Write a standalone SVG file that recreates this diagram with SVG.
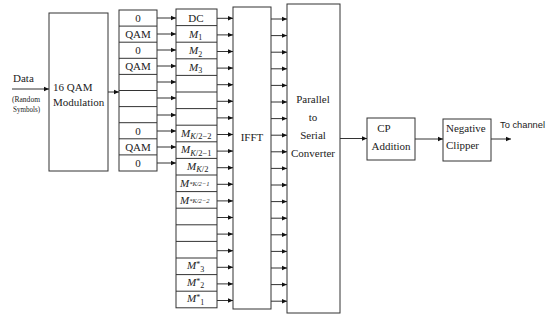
<svg xmlns="http://www.w3.org/2000/svg" width="547" height="320" viewBox="0 0 547 320">
<defs>
<marker id="ah" markerWidth="6" markerHeight="6" refX="5" refY="3" orient="auto" markerUnits="userSpaceOnUse">
<path d="M0,0.8 L5,3 L0,5.2 Z" fill="#111"/>
</marker>
<style>
.b{fill:#fff;stroke:#333;stroke-width:1}
.c line{stroke:#333;stroke-width:1;fill:none;marker-end:url(#ah)}
.t{font-family:"Liberation Serif","Times New Roman",serif;font-size:11px;fill:#222}
.m{text-anchor:middle}
.s{font-family:"Liberation Sans",Arial,sans-serif;font-size:9.5px;fill:#222}
.i{font-style:italic}
.sm{font-size:8px}
.sb{font-size:8px}
.sk{font-size:8.5px}
.sp{font-size:6.5px}
</style>
</defs>
<rect width="547" height="320" fill="#fff"/>

<g id="input">
<text class="t" x="13" y="82">Data</text>
<text class="t sm" x="12" y="102" textLength="28" lengthAdjust="spacingAndGlyphs">(Random</text>
<text class="t sm" x="13" y="112" textLength="27" lengthAdjust="spacingAndGlyphs">Symbols)</text>
</g>

<g id="modulation">
<rect class="b" x="49" y="13" width="59" height="158"/>
<text class="t" x="53" y="91">16 QAM</text>
<text class="t" x="53" y="106">Modulation</text>
</g>

<g id="col1">
<rect class="b" x="119" y="10" width="38" height="161"/>
<g stroke="#333" stroke-width="1">
<line x1="119" y1="26.1" x2="157" y2="26.1"/>
<line x1="119" y1="42.2" x2="157" y2="42.2"/>
<line x1="119" y1="58.3" x2="157" y2="58.3"/>
<line x1="119" y1="74.4" x2="157" y2="74.4"/>
<line x1="119" y1="90.5" x2="157" y2="90.5"/>
<line x1="119" y1="106.6" x2="157" y2="106.6"/>
<line x1="119" y1="122.7" x2="157" y2="122.7"/>
<line x1="119" y1="138.8" x2="157" y2="138.8"/>
<line x1="119" y1="154.9" x2="157" y2="154.9"/>
</g>
<text class="t m" x="138" y="22">0</text>
<text class="t m" x="138" y="38">QAM</text>
<text class="t m" x="138" y="54">0</text>
<text class="t m" x="138" y="70">QAM</text>
<text class="t m" x="138" y="135">0</text>
<text class="t m" x="138" y="151">QAM</text>
<text class="t m" x="138" y="167">0</text>
</g>

<g id="col2">
<rect class="b" x="176" y="9" width="41" height="298.8"/>
<g stroke="#333" stroke-width="1">
<line x1="176" y1="25.6" x2="217" y2="25.6"/>
<line x1="176" y1="42.2" x2="217" y2="42.2"/>
<line x1="176" y1="58.8" x2="217" y2="58.8"/>
<line x1="176" y1="75.4" x2="217" y2="75.4"/>
<line x1="176" y1="92" x2="217" y2="92"/>
<line x1="176" y1="108.6" x2="217" y2="108.6"/>
<line x1="176" y1="125.2" x2="217" y2="125.2"/>
<line x1="176" y1="141.8" x2="217" y2="141.8"/>
<line x1="176" y1="158.4" x2="217" y2="158.4"/>
<line x1="176" y1="175" x2="217" y2="175"/>
<line x1="176" y1="191.6" x2="217" y2="191.6"/>
<line x1="176" y1="208.2" x2="217" y2="208.2"/>
<line x1="176" y1="224.8" x2="217" y2="224.8"/>
<line x1="176" y1="241.4" x2="217" y2="241.4"/>
<line x1="176" y1="258" x2="217" y2="258"/>
<line x1="176" y1="274.6" x2="217" y2="274.6"/>
<line x1="176" y1="291.2" x2="217" y2="291.2"/>
</g>
<text class="t m" x="196" y="21.5">DC</text>
<text class="t" x="189" y="37.5"><tspan class="i">M</tspan><tspan class="sb" dy="2.5">1</tspan></text>
<text class="t" x="189" y="54"><tspan class="i">M</tspan><tspan class="sb" dy="2.5">2</tspan></text>
<text class="t" x="189" y="70.5"><tspan class="i">M</tspan><tspan class="sb" dy="2.5">3</tspan></text>
<text class="t" x="181" y="136.5"><tspan class="i">M</tspan><tspan class="sk" dy="2.5"><tspan class="i">K</tspan>/2−2</tspan></text>
<text class="t" x="181" y="153"><tspan class="i">M</tspan><tspan class="sk" dy="2.5"><tspan class="i">K</tspan>/2−1</tspan></text>
<text class="t" x="187" y="169.5"><tspan class="i">M</tspan><tspan class="sk" dy="2.5"><tspan class="i">K</tspan>/2</tspan></text>
<text class="t" x="180" y="187"><tspan class="i">M</tspan><tspan class="sp i" dy="-1">*K/2−1</tspan></text>
<text class="t" x="180" y="203.5"><tspan class="i">M</tspan><tspan class="sp i" dy="-1">*K/2−2</tspan></text>
<text class="t" x="187" y="269"><tspan class="i">M</tspan><tspan class="sb" dy="-2">*</tspan><tspan class="sb" dy="4.5">3</tspan></text>
<text class="t" x="187" y="285.5"><tspan class="i">M</tspan><tspan class="sb" dy="-2">*</tspan><tspan class="sb" dy="4.5">2</tspan></text>
<text class="t" x="187" y="302"><tspan class="i">M</tspan><tspan class="sb" dy="-2">*</tspan><tspan class="sb" dy="4.5">1</tspan></text>
</g>

<g id="ifft">
<rect class="b" x="233" y="7" width="38" height="302"/>
<text class="t m" x="252" y="141">IFFT</text>
</g>

<g id="ps">
<rect class="b" x="287" y="4" width="53" height="309"/>
<text class="t m" x="313" y="103">Parallel</text>
<text class="t m" x="313" y="121">to</text>
<text class="t m" x="313" y="139">Serial</text>
<text class="t m" x="313" y="157">Converter</text>
</g>

<g id="cp">
<rect class="b" x="367" y="118" width="48" height="42"/>
<text class="t m" x="384" y="132">CP</text>
<text class="t m" x="391" y="150">Addition</text>
</g>

<g id="clipper">
<rect class="b" x="443" y="119" width="48" height="42"/>
<text class="t" x="446" y="132">Negative</text>
<text class="t" x="446" y="149">Clipper</text>
</g>

<g id="output">
<text class="s" x="500" y="128" textLength="45" lengthAdjust="spacingAndGlyphs">To channel</text>
</g>

<g class="c" id="connectors">
<line x1="12" y1="89" x2="49" y2="89"/>
<line x1="108" y1="92" x2="119" y2="92"/>
<line x1="157" y1="18" x2="176" y2="18"/>
<line x1="157" y1="34" x2="176" y2="34"/>
<line x1="157" y1="50" x2="176" y2="50"/>
<line x1="157" y1="66" x2="176" y2="66"/>
<line x1="157" y1="82" x2="176" y2="82"/>
<line x1="157" y1="98" x2="176" y2="98"/>
<line x1="157" y1="115" x2="176" y2="115"/>
<line x1="157" y1="131" x2="176" y2="131"/>
<line x1="157" y1="147" x2="176" y2="147"/>
<line x1="157" y1="163" x2="176" y2="163"/>
<line x1="217" y1="18.3" x2="233" y2="18.3"/>
<line x1="217" y1="34.9" x2="233" y2="34.9"/>
<line x1="217" y1="51.5" x2="233" y2="51.5"/>
<line x1="217" y1="68.1" x2="233" y2="68.1"/>
<line x1="217" y1="84.7" x2="233" y2="84.7"/>
<line x1="217" y1="101.3" x2="233" y2="101.3"/>
<line x1="217" y1="117.9" x2="233" y2="117.9"/>
<line x1="217" y1="134.5" x2="233" y2="134.5"/>
<line x1="217" y1="151.1" x2="233" y2="151.1"/>
<line x1="217" y1="167.7" x2="233" y2="167.7"/>
<line x1="217" y1="184.3" x2="233" y2="184.3"/>
<line x1="217" y1="200.9" x2="233" y2="200.9"/>
<line x1="217" y1="217.5" x2="233" y2="217.5"/>
<line x1="217" y1="234.1" x2="233" y2="234.1"/>
<line x1="217" y1="250.7" x2="233" y2="250.7"/>
<line x1="217" y1="267.3" x2="233" y2="267.3"/>
<line x1="217" y1="283.9" x2="233" y2="283.9"/>
<line x1="217" y1="300.5" x2="233" y2="300.5"/>
<line x1="271" y1="19" x2="287" y2="19"/>
<line x1="271" y1="35.6" x2="287" y2="35.6"/>
<line x1="271" y1="52.2" x2="287" y2="52.2"/>
<line x1="271" y1="68.8" x2="287" y2="68.8"/>
<line x1="271" y1="85.4" x2="287" y2="85.4"/>
<line x1="271" y1="102" x2="287" y2="102"/>
<line x1="271" y1="118.6" x2="287" y2="118.6"/>
<line x1="271" y1="135.2" x2="287" y2="135.2"/>
<line x1="271" y1="151.8" x2="287" y2="151.8"/>
<line x1="271" y1="168.4" x2="287" y2="168.4"/>
<line x1="271" y1="185" x2="287" y2="185"/>
<line x1="271" y1="201.6" x2="287" y2="201.6"/>
<line x1="271" y1="218.2" x2="287" y2="218.2"/>
<line x1="271" y1="234.8" x2="287" y2="234.8"/>
<line x1="271" y1="251.4" x2="287" y2="251.4"/>
<line x1="271" y1="268" x2="287" y2="268"/>
<line x1="271" y1="284.6" x2="287" y2="284.6"/>
<line x1="271" y1="301.2" x2="287" y2="301.2"/>
<line x1="340" y1="138.5" x2="367" y2="138.5"/>
<line x1="415" y1="139" x2="443" y2="139"/>
<line x1="491" y1="139" x2="511" y2="139"/>
</g>
</svg>
